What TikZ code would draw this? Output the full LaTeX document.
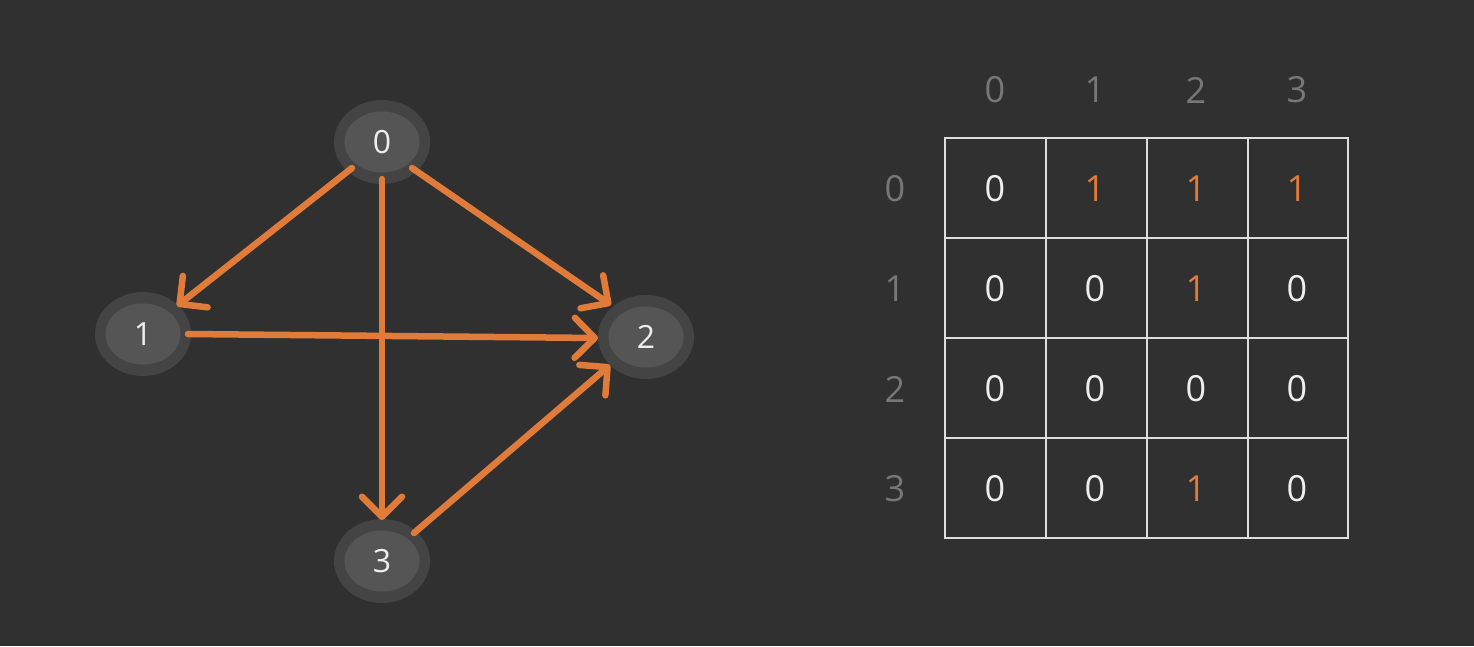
\documentclass[tikz,border=0pt]{standalone}
\usepackage{fontspec}
\setmainfont{Open Sans}
\usetikzlibrary{arrows.meta,shapes.geometric}
\definecolor{bg}{HTML}{303030}
\definecolor{outerc}{HTML}{444444}
\definecolor{innerc}{HTML}{555555}
\definecolor{orng}{HTML}{E07B39}
\definecolor{txt}{HTML}{EEEEEE}
\definecolor{hdr}{HTML}{777777}
\definecolor{gridc}{HTML}{DDDDDD}
\begin{document}
\begin{tikzpicture}[x=1pt,y=-1pt,
  vtx/.style={ellipse,minimum width=96pt,minimum height=84pt,fill=outerc,inner sep=0pt},
  vtxin/.style={ellipse,minimum width=75pt,minimum height=61pt,fill=innerc,inner sep=0pt,text=txt,font=\fontsize{32}{32}\selectfont},
  edge/.style={draw=orng,line width=6.5pt,line cap=round,-{Straight Barb[length=20pt,width=40pt,line cap=round,line join=round]}},
  hd/.style={text=hdr,font=\fontsize{36}{36}\selectfont},
  cell/.style={text=txt,font=\fontsize{36}{36}\selectfont},
  one/.style={text=orng,font=\fontsize{36}{36}\selectfont}]
\fill[bg] (0,0) rectangle (1474,646);
\useasboundingbox (0,0) rectangle (1474,646);
% vertices
\foreach \n/\x/\y in {0/382/142,1/143/334,2/646/337,3/382/561}{
  \node[vtx] (o\n) at (\x,\y) {};
  \node[vtxin] (v\n) at (\x,\y) {\n};
}
% edges
\coordinate (a0) at (352,168); \coordinate (a1) at (177,306);
\coordinate (b0) at (412,168); \coordinate (b1) at (611,305);
\coordinate (c0) at (382,179); \coordinate (c1) at (382,520);
\coordinate (d0) at (188,334); \coordinate (d1) at (598,338);
\coordinate (e0) at (414,533); \coordinate (e1) at (610,365);
\draw[edge] (a0) -- (a1);
\draw[edge] (b0) -- (b1);
\draw[edge] (c0) -- (c1);
\draw[edge] (d0) -- (d1);
\draw[edge] (e0) -- (e1);
% matrix grid
\draw[gridc,line width=2pt] (945,138) rectangle (1348,538);
\foreach \x in {1046,1147,1248} \draw[gridc,line width=2pt] (\x,138) -- (\x,538);
\foreach \y in {238,338,438} \draw[gridc,line width=2pt] (945,\y) -- (1348,\y);
% headers
\foreach \i/\x in {0/995,1/1095,2/1196,3/1297} \node[hd] (h\i) at (\x,90) {\i};
\foreach \i/\y in {0/189,1/289,2/389,3/489} \node[hd] (r\i) at (895,\y) {\i};
% cells
\node[cell] (m00) at (995,189) {0};
\node[one] (m01) at (1095,189) {1};
\node[one] (m02) at (1196,189) {1};
\node[one] (m03) at (1297,189) {1};
\node[cell] (m10) at (995,289) {0};
\node[cell] (m11) at (1095,289) {0};
\node[one] (m12) at (1196,289) {1};
\node[cell] (m13) at (1297,289) {0};
\node[cell] (m20) at (995,389) {0};
\node[cell] (m21) at (1095,389) {0};
\node[cell] (m22) at (1196,389) {0};
\node[cell] (m23) at (1297,389) {0};
\node[cell] (m30) at (995,489) {0};
\node[cell] (m31) at (1095,489) {0};
\node[one] (m32) at (1196,489) {1};
\node[cell] (m33) at (1297,489) {0};
\end{tikzpicture}
\end{document}
